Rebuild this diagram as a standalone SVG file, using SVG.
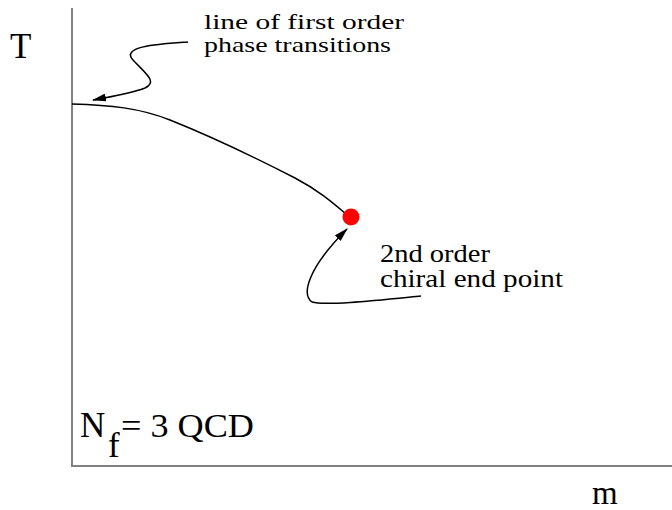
<svg xmlns="http://www.w3.org/2000/svg" width="672" height="510" viewBox="0 0 672 510">
<style>
text{font-family:"Liberation Serif","Times New Roman",serif;fill:#000}
.ax{stroke:#808080;stroke-width:2;fill:none}
.ln{stroke:#000;stroke-width:1.5;fill:none}
</style>
<defs>
<marker id="ah" markerWidth="14" markerHeight="8" refX="13" refY="4" orient="auto" markerUnits="userSpaceOnUse">
<path d="M0,0 L14,4 L0,8 z" fill="#000"/>
</marker>
</defs>
<rect width="672" height="510" fill="#fff"/>
<g id="axes">
<line class="ax" x1="72" y1="8" x2="72" y2="466"/>
<line class="ax" x1="71" y1="466" x2="672" y2="466"/>
</g>
<g id="curve">
<path class="ln" d="M72,104 C110,105 140,108 170,120 C215,138 260,160 295,178 C318,190 333,203 346,214"/>
</g>
<g id="endpoint">
<circle cx="351" cy="217" r="8.5" fill="#ff0000"/>
</g>
<g id="connectors">
<path class="ln" d="M188,42 C160,44 120,46 133,60 C146,74 158,82 145,88 C130,94 108,97 93,100" marker-end="url(#ah)"/>
<path class="ln" d="M421,296 C380,300 325,306 312,302 C302,295 306,270 347,229" marker-end="url(#ah)"/>
</g>
<g id="labels">
<text x="10" y="58" font-size="35">T</text>
<text x="592" y="504" font-size="33">m</text>
<text x="204" y="29" font-size="21.5" textLength="200" lengthAdjust="spacingAndGlyphs">line of first order</text>
<text x="204" y="52" font-size="21.5" textLength="187" lengthAdjust="spacingAndGlyphs">phase transitions</text>
<text x="380" y="262" font-size="25" textLength="110" lengthAdjust="spacingAndGlyphs">2nd order</text>
<text x="380" y="287" font-size="25" textLength="183" lengthAdjust="spacingAndGlyphs">chiral end point</text>
<text x="80" y="437" font-size="35">N</text>
<text x="108" y="457" font-size="35">f</text>
<text x="121" y="437" font-size="34" textLength="133" lengthAdjust="spacingAndGlyphs">= 3 QCD</text>
</g>
</svg>
